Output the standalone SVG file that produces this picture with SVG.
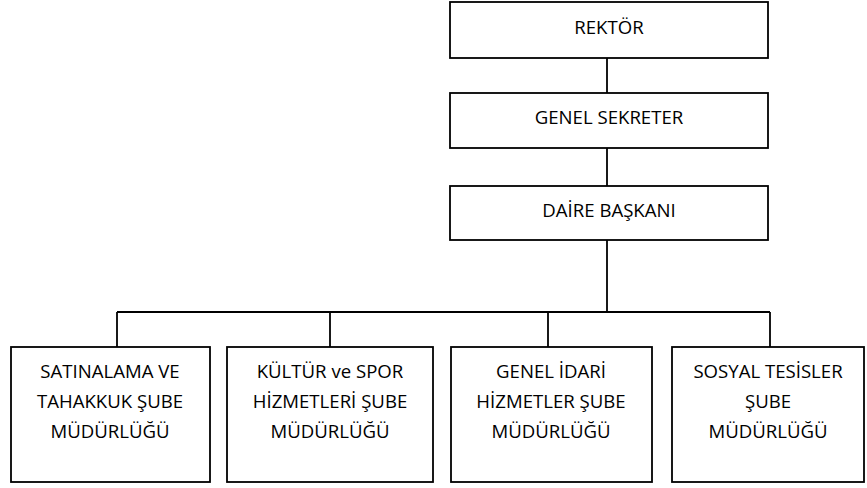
<svg xmlns="http://www.w3.org/2000/svg" width="867" height="488" viewBox="0 0 867 488">
<style>
.box{fill:#fff;stroke:#000;stroke-width:1.8}
.t{font-family:"Open Sans",sans-serif;font-size:18.6px;fill:#000;text-anchor:middle}
.c{stroke:#000;stroke-width:1.8;fill:none}
</style>
<rect width="867" height="488" fill="#fff"/>
<g id="connectors">
<line class="c" x1="607" y1="58" x2="607" y2="93"/>
<line class="c" x1="607" y1="148" x2="607" y2="186"/>
<line class="c" x1="607" y1="240" x2="607" y2="312"/>
<line class="c" x1="117" y1="312" x2="770" y2="312"/>
<line class="c" x1="117" y1="312" x2="117" y2="347"/>
<line class="c" x1="330" y1="312" x2="330" y2="347"/>
<line class="c" x1="548" y1="312" x2="548" y2="347"/>
<line class="c" x1="770" y1="312" x2="770" y2="347"/>
</g>
<g id="rektor"><rect class="box" x="450" y="2" width="318" height="56"/><text class="t" x="609" y="34">REKTÖR</text></g>
<g id="genel-sekreter"><rect class="box" x="450" y="93" width="318" height="55"/><text class="t" x="609" y="124">GENEL SEKRETER</text></g>
<g id="daire-baskani"><rect class="box" x="450" y="186" width="318" height="54"/><text class="t" x="609" y="217">DAİRE BAŞKANI</text></g>
<g id="satinalama"><rect class="box" x="11" y="347" width="199" height="135"/><text class="t" x="110" y="378">SATINALAMA VE</text><text class="t" x="110" y="408">TAHAKKUK ŞUBE</text><text class="t" x="110" y="438">MÜDÜRLÜĞÜ</text></g>
<g id="kultur-spor"><rect class="box" x="227" y="347" width="206" height="135"/><text class="t" x="330" y="378">KÜLTÜR ve SPOR</text><text class="t" x="330" y="408">HİZMETLERİ ŞUBE</text><text class="t" x="330" y="438">MÜDÜRLÜĞÜ</text></g>
<g id="genel-idari"><rect class="box" x="451" y="347" width="201" height="135"/><text class="t" x="551" y="378">GENEL İDARİ</text><text class="t" x="551" y="408">HİZMETLER ŞUBE</text><text class="t" x="551" y="438">MÜDÜRLÜĞÜ</text></g>
<g id="sosyal-tesisler"><rect class="box" x="672" y="347" width="192" height="135"/><text class="t" x="768" y="378">SOSYAL TESİSLER</text><text class="t" x="768" y="408">ŞUBE</text><text class="t" x="768" y="438">MÜDÜRLÜĞÜ</text></g>
</svg>
